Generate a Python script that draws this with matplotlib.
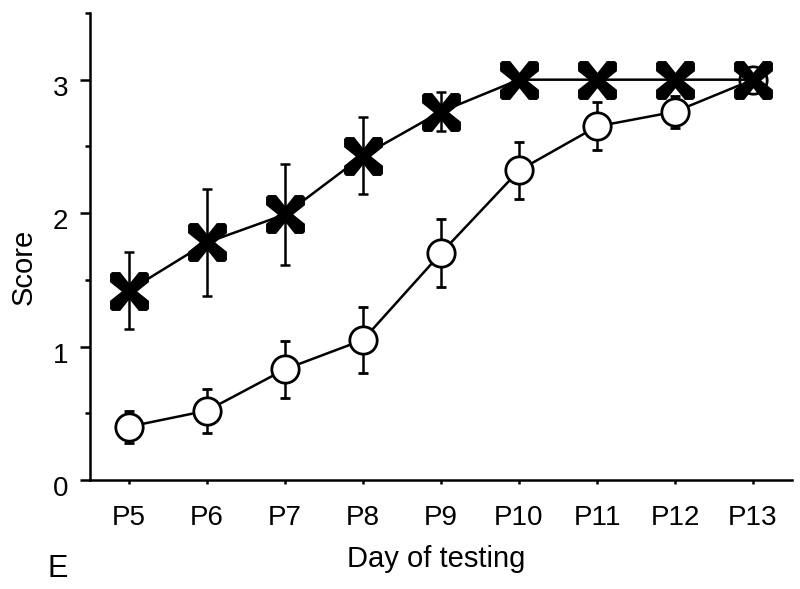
import math
import matplotlib
matplotlib.use("Agg")
import matplotlib.pyplot as plt
from matplotlib.ticker import MultipleLocator
from matplotlib.path import Path
from matplotlib.transforms import ScaledTranslation

days = ["P5", "P6", "P7", "P8", "P9", "P10", "P11", "P12", "P13"]
cross_mean = [1.42, 1.78, 1.99, 2.43, 2.76, 3.0, 3.0, 3.0, 3.0]
cross_err = [0.29, 0.40, 0.38, 0.29, 0.145, 0.0, 0.0, 0.0, 0.0]
circle_mean = [0.40, 0.52, 0.83, 1.05, 1.70, 2.32, 2.65, 2.76, 3.0]
circle_err = [0.12, 0.165, 0.215, 0.25, 0.255, 0.215, 0.18, 0.12, 0.0]

plt.rcParams['font.family'] = ['Liberation Sans', 'DejaVu Sans']

# bold X marker with slightly chamfered square tips
w, n, c = 0.26, 0.20, 0.05
quarter = [(-0.5, -0.5 + w), (-0.5, -0.5 + c), (-0.5 + c, -0.5),
           (-0.5 + w, -0.5), (0, -n)]
verts = []
for k in range(4):
    ang = k * math.pi / 2
    ca, sa = round(math.cos(ang)), round(math.sin(ang))
    for (px, py) in quarter:
        verts.append((px * ca - py * sa, px * sa + py * ca))
verts.append(verts[0])
codes = [Path.MOVETO] + [Path.LINETO] * (len(verts) - 2) + [Path.CLOSEPOLY]
xmark = Path(verts, codes)

fig = plt.figure(figsize=(8.0, 5.89), dpi=100)
ax = fig.add_axes([0.1125, 0.185, 0.8775, 0.793])

x = list(range(len(days)))
lw = 1.8

ax.errorbar(x, circle_mean, yerr=circle_err, fmt='-o', color='black',
            markerfacecolor='white', markeredgecolor='black', markersize=19.7,
            markeredgewidth=2.0, linewidth=lw, elinewidth=lw, capsize=3.8,
            capthick=lw, zorder=2)
ax.errorbar(x, cross_mean, yerr=cross_err, fmt='none', ecolor='black',
            elinewidth=lw, capsize=3.8, capthick=lw, zorder=3)
ax.plot(x, cross_mean, '-', color='black', linewidth=lw, marker=xmark,
        markersize=28, markerfacecolor='black', markeredgewidth=0, zorder=4)

ax.set_xlim(-0.5, 8.5)
ax.set_ylim(0, 3.5)
ax.set_xticks(x)
ax.set_xticklabels(days)
ax.set_yticks([0, 1, 2, 3])
ax.yaxis.set_minor_locator(MultipleLocator(0.5))

for s in ['top', 'right']:
    ax.spines[s].set_visible(False)
for s in ['left', 'bottom']:
    ax.spines[s].set_linewidth(lw)

ax.tick_params(axis='y', which='major', length=7.2, width=lw, labelsize=20, pad=8.6)
ax.tick_params(axis='y', which='minor', length=3.6, width=lw)
ax.tick_params(axis='x', which='major', length=3, width=lw, labelsize=20, pad=15)

off = ScaledTranslation(0, -4.5 / 72, fig.dpi_scale_trans)
for lab in ax.get_yticklabels():
    lab.set_transform(lab.get_transform() + off)

fig.text(436 / 800, 1 - 567 / 589, "Day of testing", fontsize=21,
         ha='center', va='baseline')
fig.text(24 / 800, 1 - 267 / 589, "Score", fontsize=21, rotation=90,
         ha='center', va='center')
fig.text(0.0595, 1 - 577 / 589, "E", fontsize=22, ha='left', va='baseline')

fig.savefig("out.png", dpi=100)
